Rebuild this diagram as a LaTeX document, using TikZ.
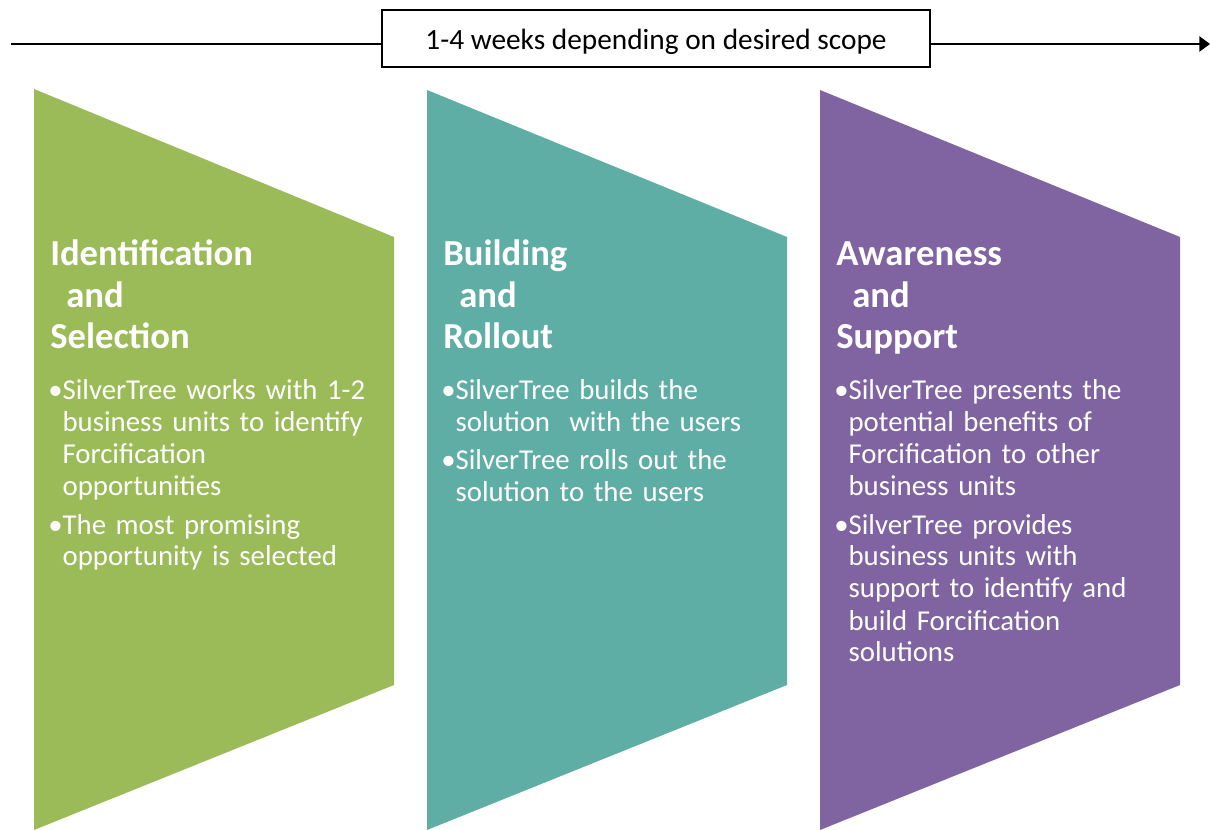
\documentclass[tikz,border=0pt]{standalone}
\usepackage{fontspec}
\setmainfont{Carlito}
\usetikzlibrary{arrows.meta}

\definecolor{stageGreen}{HTML}{9BBB59}
\definecolor{stageTeal}{HTML}{5EAEA6}
\definecolor{stagePurple}{HTML}{8064A2}

% bullet paragraph with continuation lines aligned after the bullet
\newlength\bulletwd
\newcommand\bulletitem[1]{\settowidth\bulletwd{•}\hangindent=\bulletwd\hangafter=1\noindent•#1\par}
\newcommand\itemgap{\vspace{4.5pt}}

\tikzset{
  stagetitle/.style={anchor=base west, inner sep=0pt, text width=260pt, align=left,
    text=white, font=\fontsize{27.5}{31}\selectfont\bfseries},
  stagebody/.style={anchor=base west, inner sep=0pt, text width=275pt,
    text=white, font=\fontsize{21.6}{24}\selectfont},
  scopebox/.style={draw, line width=0.8pt, minimum width=411pt, minimum height=42.75pt,
    inner sep=0pt, text height=18pt, text depth=1pt, font=\fontsize{22}{26}\selectfont},
  timeline/.style={line width=1.1pt}
}

\begin{document}
\begin{tikzpicture}[x=0.75pt, y=-0.75pt]
  \useasboundingbox (0,0) rectangle (1210,830);

  % timeline with the duration box
  \node[scopebox] (scope) at (656,38.5) {1-4 weeks depending on desired scope};
  \coordinate (tstart) at (11,44);
  \coordinate (tend) at (1210,44);
  \draw[timeline] (tstart) -- (tstart -| scope.west);
  \draw[timeline, -{Triangle[length=8pt, width=11.5pt]}] (scope.east |- tend) -- (tend);

  % stage 1
  \fill[stageGreen] (34,89) -- (394,237) -- (394,685) -- (34,830) -- cycle;
  \node[stagetitle] (t1) at (50,266) {Identification\\\hspace*{12pt}and\\Selection};
  \node[stagebody] (b1) at (48,400) {%
    \bulletitem{SilverTree works with 1-2\newline business units to identify\newline Forcification\newline opportunities}\itemgap
    \bulletitem{The most promising\newline opportunity is selected}};

  % stage 2
  \fill[stageTeal] (427,90) -- (787,237) -- (787,685) -- (427,830) -- cycle;
  \node[stagetitle] (t2) at (443,266) {Building\\\hspace*{12pt}and\\Rollout};
  \node[stagebody] (b2) at (441,400) {%
    \bulletitem{SilverTree builds the\newline solution\ \ with the users}\itemgap
    \bulletitem{SilverTree rolls out the\newline solution to the users}};

  % stage 3
  \fill[stagePurple] (820,90) -- (1180,237) -- (1180,685) -- (820,830) -- cycle;
  \node[stagetitle] (t3) at (836,266) {Awareness\\\hspace*{12pt}and\\Support};
  \node[stagebody] (b3) at (834,400) {%
    \bulletitem{SilverTree presents the\newline potential benefits of\newline Forcification to other\newline business units}\itemgap
    \bulletitem{SilverTree provides\newline business units with\newline support to identify and\newline build Forcification\newline solutions}};
\end{tikzpicture}
\end{document}
